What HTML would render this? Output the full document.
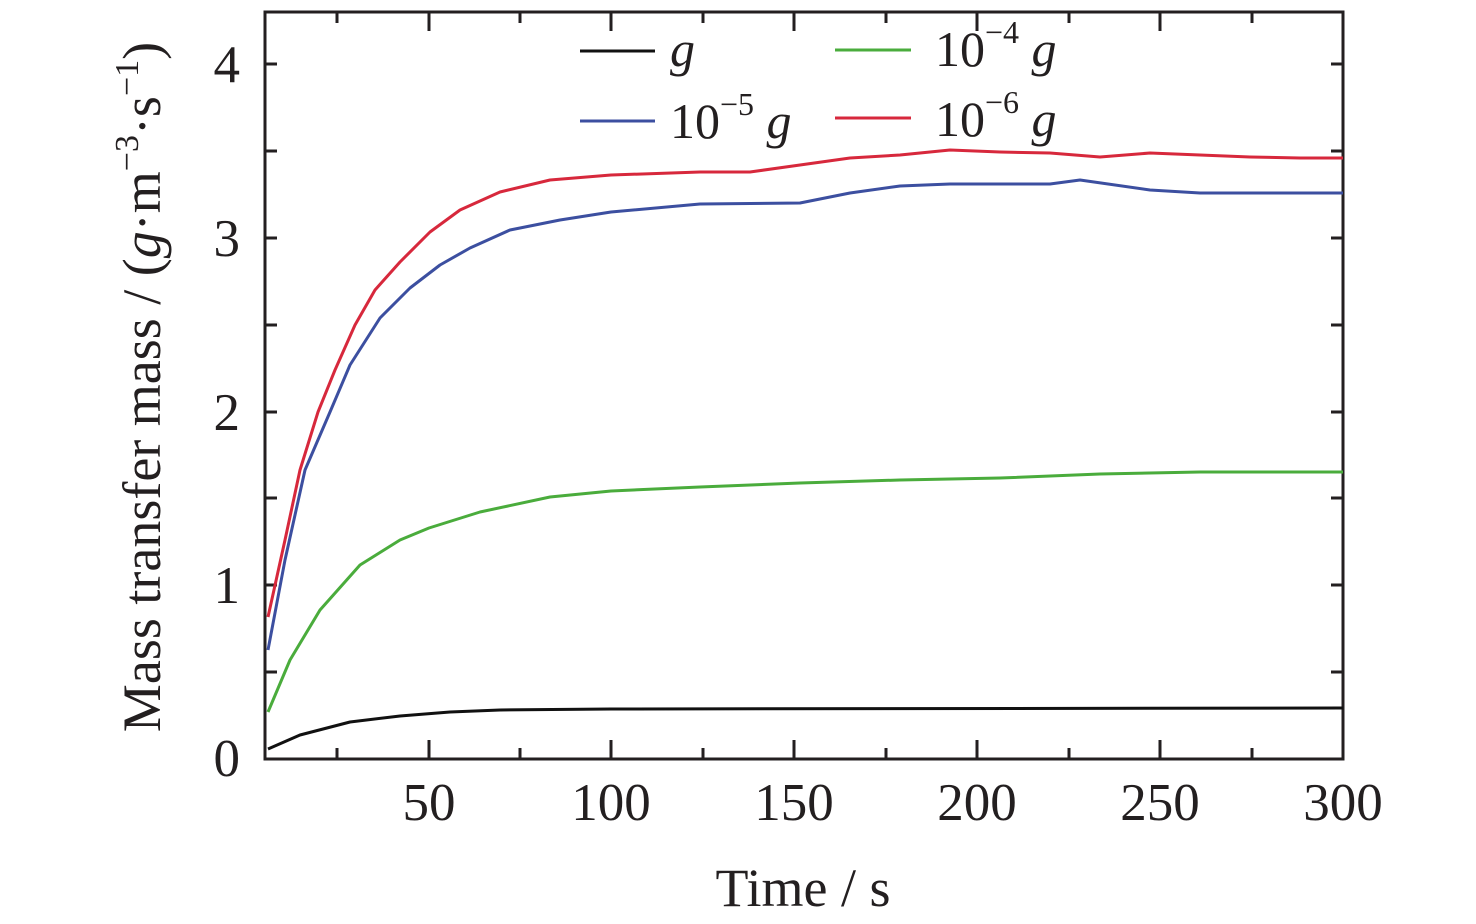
<!DOCTYPE html>
<html><head><meta charset="utf-8"><style>
html,body{margin:0;padding:0;background:#fff;}
svg{display:block;}
text{font-family:"Liberation Serif","Times New Roman",serif;fill:#231f20;}
</style></head><body>
<svg width="1476" height="924" viewBox="0 0 1476 924">
<g stroke="#231f20" stroke-width="3" fill="none">
<rect x="265" y="12" width="1078" height="747"/>
<path d="M429 759v-19M611 759v-19M794 759v-19M977 759v-19M1160 759v-19M1343 759v-19"/>
<path d="M337 759v-11M520 759v-11M703 759v-11M886 759v-11M1069 759v-11M1252 759v-11"/>
<path d="M429 12v19M611 12v19M794 12v19M977 12v19M1160 12v19"/>
<path d="M337 12v11M520 12v11M703 12v11M886 12v11M1069 12v11M1252 12v11"/>
<path d="M265 585h12M265 412h12M265 238h12M265 64h12"/>
<path d="M265 672h12M265 498h12M265 325h12M265 151h12"/>
<path d="M1343 585h-12M1343 412h-12M1343 238h-12M1343 64h-12"/>
<path d="M1343 672h-12M1343 498h-12M1343 325h-12M1343 151h-12"/>
</g>
<g fill="none" stroke-width="3" stroke-linejoin="round">
<polyline stroke="#d7283c" points="268,617 285,540 300,470 318,412 335,370 355,325 375,290 400,262 430,232 460,210 500,192 550,180 611,175 700,172 750,172 800,165 850,158 900,155 950,150 1000,152 1050,153 1100,157 1150,153 1200,155 1250,157 1300,158 1343,158"/>
<polyline stroke="#3c4fa0" points="268,650 285,560 305,470 330,412 350,365 380,318 410,288 440,265 470,248 510,230 560,220 611,212 700,204 800,203 850,193 900,186 950,184 1050,184 1080,180 1150,190 1200,193 1343,193"/>
<polyline stroke="#4aac3c" points="268,712 290,660 320,610 360,565 400,540 429,528 480,512 550,497 611,491 700,487 800,483 900,480 1000,478 1100,474 1200,472 1343,472"/>
<polyline stroke="#111" points="268,749 300,735 350,722 400,716 450,712 500,710 611,709 1343,708"/>
<path stroke="#111" d="M580 51h75"/>
<path stroke="#4aac3c" d="M835 50h76"/>
<path stroke="#3c4fa0" d="M580 121h75"/>
<path stroke="#d7283c" d="M835 118h76"/>
</g>
<g font-size="50">
<text x="670" y="66" font-style="italic">g</text>
<text x="935" y="66">10<tspan font-size="32" dy="-23">−4</tspan><tspan dy="23" font-style="italic"> g</tspan></text>
<text x="670" y="138">10<tspan font-size="32" dy="-23">−5</tspan><tspan dy="23" font-style="italic"> g</tspan></text>
<text x="935" y="136">10<tspan font-size="32" dy="-23">−6</tspan><tspan dy="23" font-style="italic"> g</tspan></text>
</g>
<g font-size="53" text-anchor="middle">
<text x="429" y="820">50</text><text x="611" y="820">100</text><text x="794" y="820">150</text>
<text x="977" y="820">200</text><text x="1160" y="820">250</text><text x="1343" y="820">300</text>
</g>
<g font-size="53" text-anchor="end">
<text x="240" y="776">0</text><text x="240" y="603">1</text><text x="240" y="430">2</text>
<text x="240" y="256">3</text><text x="240" y="82">4</text>
</g>
<text x="803" y="906" font-size="54" text-anchor="middle">Time / s</text>
<text transform="translate(160,387) rotate(-90)" font-size="54" text-anchor="middle">Mass transfer mass / (<tspan font-style="italic">g</tspan>·m<tspan font-size="34" dy="-22">−3</tspan><tspan dy="22">·s</tspan><tspan font-size="34" dy="-22">−1</tspan><tspan dy="22">)</tspan></text>
</svg>
</body></html>
